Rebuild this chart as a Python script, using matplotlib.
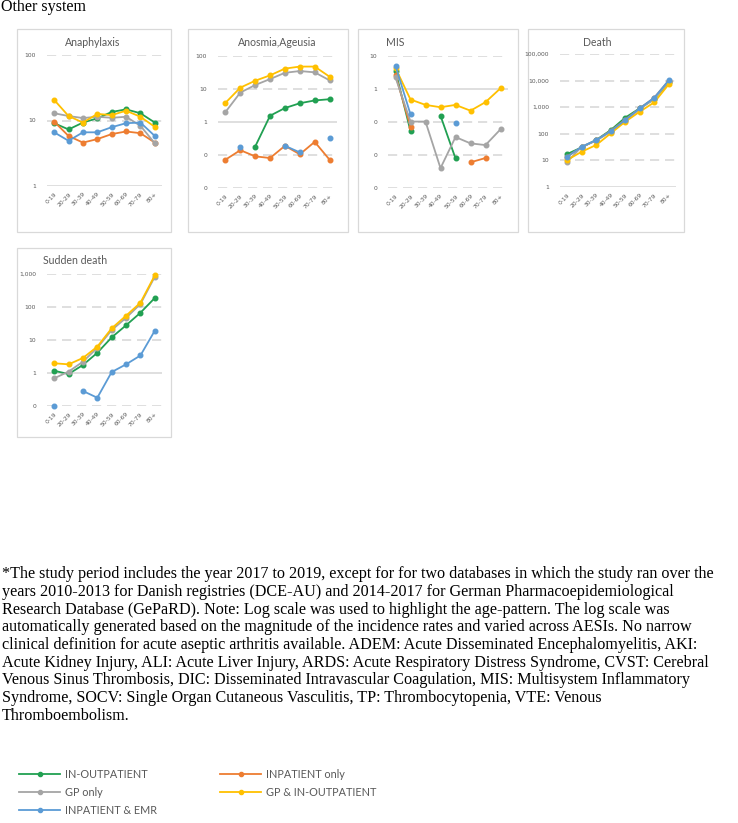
import numpy as np
import matplotlib
matplotlib.use('Agg')
import matplotlib.pyplot as plt
from matplotlib.patches import Rectangle
from matplotlib.ticker import FuncFormatter, NullLocator

nan = np.nan

# age groups (x categories)
ages = ['0-19', '20-29', '30-39', '40-49', '50-59', '60-69', '70-79', '80+']

series_names = ['IN-OUTPATIENT', 'INPATIENT only', 'GP only', 'GP & IN-OUTPATIENT', 'INPATIENT & EMR']
colors = ['#21a052', '#ed7d31', '#a5a5a5', '#ffc000', '#5b9bd5']

# Anaphylaxis
ana_inout = [9.1, 7.3, 9.3, 10.8, 13.5, 14.8, 12.9, 9.3]
ana_inpat = [9.6, 5.8, 4.6, 5.2, 6.2, 6.8, 6.4, 4.6]
ana_gp = [12.9, 11.7, 10.9, 11.4, 11.0, 11.4, 8.3, 4.5]
ana_gp_inout = [20.6, 11.7, 9.3, 12.6, 12.1, 14.1, 11.4, 8.0]
ana_emr = [6.6, 4.9, 6.6, 6.6, 7.9, 9.1, 9.3, 5.8]

# Anosmia, Ageusia
ano_inout = [nan, nan, 0.18, 1.55, 2.65, 3.7, 4.5, 4.9]
ano_inpat = [0.072, 0.14, 0.091, 0.081, 0.19, 0.105, 0.25, 0.072]
ano_gp = [2.0, 7.8, 13.2, 20.0, 31.0, 35.0, 32.0, 18.3]
ano_gp_inout = [3.8, 11.0, 17.8, 25.9, 41.5, 47.8, 47.8, 23.6]
ano_emr = [nan, 0.17, nan, nan, 0.19, 0.12, nan, 0.32]

# MIS
mis_inout = [3.5, 0.053, nan, 0.155, 0.0079, nan, nan, nan]
mis_inpat = [2.65, 0.072, nan, nan, nan, 0.006, 0.0081, nan]
mis_gp = [2.25, 0.103, 0.103, 0.0040, 0.035, 0.0225, 0.020, 0.060]
mis_gp_inout = [4.3, 0.48, 0.33, 0.28, 0.33, 0.22, 0.40, 1.05]
mis_emr = [5.1, 0.17, nan, nan, 0.091, nan, nan, nan]

# Death
dth_inout = [17.4, 31, 58.5, 138, 405, 910, 2030, 8560]
dth_inpat = [14, 32, 57, 130, 340, 900, 2250, 10000]
dth_gp = [8.9, 32.8, 55, 120, 300, 860, 2030, 9000]
dth_gp_inout = [10.4, 21.3, 38, 104, 285, 680, 1520, 7240]
dth_emr = [13.8, 32.8, 58.5, 127, 330, 910, 2280, 10250]

# Sudden death
sd_inout = [1.17, 0.93, 1.75, 4.1, 12, 27.9, 67, 188]
sd_inpat = [nan] * 8
sd_gp = [0.69, 1.10, 2.2, 5.8, 20, 47, 123, 830]
sd_gp_inout = [1.97, 1.83, 2.85, 6.3, 22.6, 54.5, 135, 912]
sd_emr = [0.098, nan, 0.285, 0.178, 1.07, 1.83, 3.4, 19.2]

footnote = [
    "*The study period includes the year 2017 to 2019, except for for two databases in which the study ran over the",
    "years 2010-2013 for Danish registries (DCE-AU) and 2014-2017 for German Pharmacoepidemiological",
    "Research Database (GePaRD). Note: Log scale was used to highlight the age-pattern. The log scale was",
    "automatically generated based on the magnitude of the incidence rates and varied across AESIs. No narrow",
    "clinical definition for acute aseptic arthritis available. ADEM: Acute Disseminated Encephalomyelitis, AKI:",
    "Acute Kidney Injury, ALI: Acute Liver Injury, ARDS: Acute Respiratory Distress Syndrome, CVST: Cerebral",
    "Venous Sinus Thrombosis, DIC: Disseminated Intravascular Coagulation, MIS: Multisystem Inflammatory",
    "Syndrome, SOCV: Single Organ Cutaneous Vasculitis, TP: Thrombocytopenia, VTE: Venous",
    "Thromboembolism.",
]

W, H = 738, 823
fig = plt.figure(figsize=(W / 100, H / 100), dpi=100)
bg = fig.add_axes([0, 0, 1, 1])
bg.set_xlim(0, W)
bg.set_ylim(H, 0)
bg.axis('off')

grey_txt = '#595959'
grid_c = '#d9d9d9'

# title, title x, title align, box (x0,y0,x1,y1), plot area (x0,y0,x1,y1), y limits, series
panels = [
    ('Anaphylaxis', 93, 'center', (17, 29, 171, 232), (47, 55, 162, 186), (1, 100),
     [ana_inout, ana_inpat, ana_gp, ana_gp_inout, ana_emr]),
    ('Anosmia,Ageusia', 277, 'center', (188, 29, 348, 232), (218, 56, 337, 188), (0.01, 100),
     [ano_inout, ano_inpat, ano_gp, ano_gp_inout, ano_emr]),
    ('MIS', 386, 'left', (358, 29, 518, 232), (388, 56, 508, 188), (0.001, 10),
     [mis_inout, mis_inpat, mis_gp, mis_gp_inout, mis_emr]),
    ('Death', 597, 'center', (528, 29, 684, 232), (560, 54, 676, 187), (1, 100000),
     [dth_inout, dth_inpat, dth_gp, dth_gp_inout, dth_emr]),
    ('Sudden death', 43, 'left', (17, 248, 171, 437), (47, 274, 162, 406), (0.1, 1000),
     [sd_inout, sd_inpat, sd_gp, sd_gp_inout, sd_emr]),
]

fmt = FuncFormatter(lambda v, p: f"{v:,.0f}")

for title, tx, talign, box, area, ylim, data in panels:
    bx0, by0, bx1, by1 = box
    bg.add_patch(Rectangle((bx0, by0), bx1 - bx0, by1 - by0, fill=False, ec=grid_c, lw=0.9))
    bg.text(tx, by0 + 13, title, ha=talign, va='center', fontsize=7.6, color=grey_txt, family='Lato')

    x0, y0, x1, y1 = area
    ax = fig.add_axes([x0 / W, 1 - y1 / H, (x1 - x0) / W, (y1 - y0) / H])
    ax.patch.set_alpha(0)
    ax.set_yscale('log')
    ax.set_ylim(*ylim)
    ax.set_xlim(-0.5, 7.5)
    for s in ax.spines.values():
        s.set_visible(False)
    decades = 10.0 ** np.arange(np.log10(ylim[0]), np.log10(ylim[1]) + 1)
    for d in decades:
        if np.isclose(d, 1):
            ax.axhline(d, color=grid_c, lw=1.2, zorder=0)
        else:
            ax.axhline(d, color=grid_c, lw=1.2, ls=(0, (5.5, 3.5)), zorder=0)
    ax.set_yticks(decades)
    ax.yaxis.set_minor_locator(NullLocator())
    ax.yaxis.set_major_formatter(fmt)
    ax.set_xticks(range(len(ages)))
    ax.set_xticklabels(ages, rotation=45, ha='right', rotation_mode='anchor')
    ax.tick_params(axis='both', length=0, labelsize=4.3, labelcolor=grey_txt)
    ax.tick_params(axis='y', pad=8)
    ax.tick_params(axis='x', pad=4)

    for vals, c in zip(data, colors):
        ax.plot(range(len(ages)), vals, color=c, lw=1.3, marker='o', ms=3.3, clip_on=False)

# legend
leg_rows = [774, 792, 810]
leg_cols = [19, 220]
for i, (name, c) in enumerate(zip(series_names, colors)):
    y = leg_rows[i // 2]
    x = leg_cols[i % 2]
    bg.plot([x, x + 41], [y, y], color=c, lw=1.3)
    bg.plot([x + 20.5], [y], 'o', color=c, ms=3)
    bg.text(x + 46, y, name, va='center', ha='left', fontsize=7.8, color=grey_txt, family='Lato')

bg.text(1, 7, 'Other system', va='center', ha='left', fontsize=11.6, family='Liberation Serif')

for i, line in enumerate(footnote):
    bg.text(2, 574 + i * 17.75, line, va='center', ha='left', fontsize=11.6, family='Liberation Serif')

fig.savefig('out.png', dpi=100)
